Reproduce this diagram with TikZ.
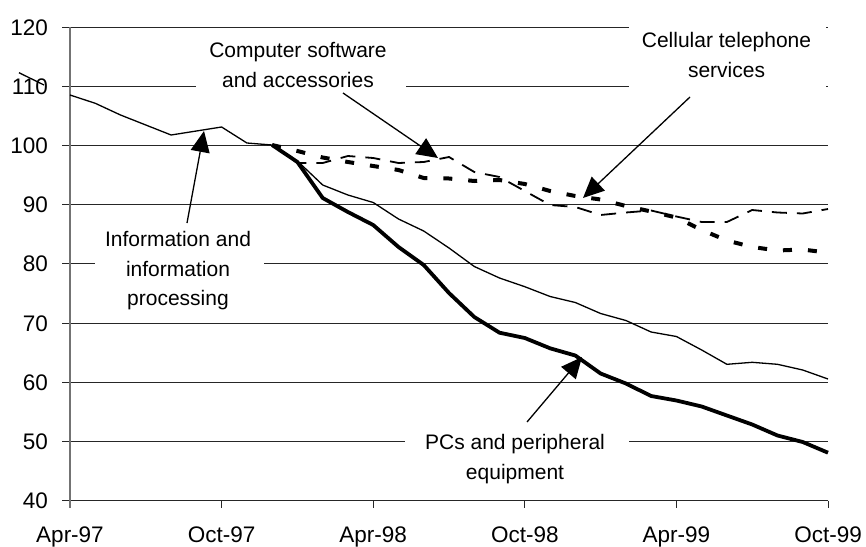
\documentclass[tikz,border=0pt]{standalone}
\usepackage{fontspec}
\setmainfont{Liberation Sans}
\usetikzlibrary{arrows.meta}
\begin{document}
\begin{tikzpicture}[x=1pt,y=-1pt,
  grid/.style={black!85, line width=0.9pt},
  yaxis/.style={black!55, line width=1.2pt},
  infoline/.style={black, line width=1.3pt, line join=round},
  pcline/.style={black, line width=3.8pt, line join=round},
  softline/.style={black, line width=1.8pt, dash pattern=on 15pt off 10pt},
  cellline/.style={black, line width=4pt, dash pattern=on 9pt off 16pt},
  callout/.style={black, line width=1.3pt, -{Triangle[length=21pt,width=19pt]}},
  ticklab/.style={font=\fontsize{22.5}{27}\selectfont, inner sep=0pt},
  annot/.style={font=\fontsize{21}{29.5}\selectfont, align=center, inner sep=0pt},
]
\useasboundingbox (0,0) rectangle (866,546);

% gridlines (broken where labels sit)
\draw[grid] (62,27) -- (629,27) (826,27) -- (828,27);
\draw[grid] (62,86.5) -- (196,86.5) (406,86.5) -- (629,86.5) (826,86.5) -- (828,86.5);
\draw[grid] (62,145.4) -- (828,145.4);
\draw[grid] (62,204.6) -- (828,204.6);
\draw[grid] (62,263.8) -- (95,263.8) (264,263.8) -- (828,263.8);
\draw[grid] (62,323) -- (828,323);
\draw[grid] (62,382.2) -- (828,382.2);
\draw[grid] (62,441.5) -- (404.7,441.5) (629,441.5) -- (828,441.5);
% axes
\draw[grid] (62,500.7) -- (828,500.7);
\draw[yaxis] (70,27) -- (70,508);
\foreach \tx in {221.6,373.2,524.8,676.4,828} \draw[grid] (\tx,500.7) -- (\tx,508);

% y tick labels
\foreach \v/\py in {120/27,110/86.5,100/145.4,90/204.6,80/263.8,70/323,60/382.2,50/441.5,40/500.7}
  \node[ticklab, anchor=base east] (y\v) at (48,\py+8) {\v};
% x tick labels
\foreach \lab/\tx [count=\i] in {Apr-97/70,Oct-97/221.6,Apr-98/373.2,Oct-98/524.8,Apr-99/676.4,Oct-99/828}
  \node[ticklab, anchor=base] (x\i) at (\tx,542) {\lab};

% stray fragment over the 110 label
\draw[infoline] (19,72.7) -- (44,85);

% Information and information processing
\draw[infoline] plot coordinates {(70,95) (95.3,103.3) (120.5,115) (171.1,135) (221.6,127) (246.9,143) (272.1,145) (297.4,161) (322.7,185) (347.9,195) (373.2,202.5) (398.5,219) (423.7,231) (449,248) (474.3,266.5) (499.5,278) (524.8,286.7) (550.1,296.5) (575.3,302.5) (600.6,313.5) (625.9,320.5) (651.1,332) (676.4,336.5) (701.7,350) (726.9,364.3) (752.2,362.3) (777.5,364.3) (802.7,370) (828,379)};

% PCs and peripheral equipment
\draw[pcline] plot coordinates {(272.1,145) (297.4,162) (322.7,198) (347.9,212) (373.2,225) (398.5,247) (423.7,265) (449,293) (474.3,317) (499.5,332.7) (524.8,338) (550.1,348.3) (575.3,355.5) (600.6,373.5) (625.9,383.5) (651.1,396) (676.4,400.5) (701.7,406.5) (726.9,415.5) (752.2,424.5) (777.5,435.5) (802.7,442) (828,452.7)};

% Computer software and accessories
\draw[softline] plot coordinates {(272.1,145) (297.4,163) (322.7,163) (347.9,156) (373.2,158) (398.5,163) (423.7,162) (449,157) (474.3,172) (499.5,177) (524.8,191) (550.1,205) (575.3,207) (600.6,215) (625.9,212.5) (651.1,210.5) (676.4,216.5) (701.7,222) (726.9,222) (752.2,210) (777.5,212.5) (802.7,213.5) (828,209)};

% Cellular telephone services
\draw[cellline] plot coordinates {(272.1,145) (297.4,151) (322.7,157.5) (347.9,162) (373.2,166) (398.5,170) (423.7,178) (449,178.5) (474.3,181) (499.5,180) (524.8,184) (550.1,191) (575.3,196) (600.6,199.5) (625.9,206) (651.1,211.5) (676.4,217.5) (701.7,230) (726.9,240.5) (752.2,247) (777.5,250.5) (802.7,249.5) (828,252.7)};

% labels
\node[annot] (soft) at (298,65) {Computer software\\and accessories};
\node[annot] (cell) at (726.5,55) {Cellular telephone\\services};
\node[annot] (info) at (178,271) {Information and\\information\\processing};
\node[annot] (pcs) at (515,459) {PCs and peripheral\\equipment};

% callout arrows
\coordinate (infoTail) at (187,223);
\coordinate (infoTip) at (204,131);
\coordinate (softTail) at (343,93);
\coordinate (softTip) at (438,158);
\coordinate (cellTail) at (690,97);
\coordinate (cellTip) at (583,198);
\coordinate (pcsTail) at (527,422);
\coordinate (pcsTip) at (582,357);
\draw[callout] (infoTail) -- (infoTip);
\draw[callout] (softTail) -- (softTip);
\draw[callout] (cellTail) -- (cellTip);
\draw[callout] (pcsTail) -- (pcsTip);
\end{tikzpicture}
\end{document}
